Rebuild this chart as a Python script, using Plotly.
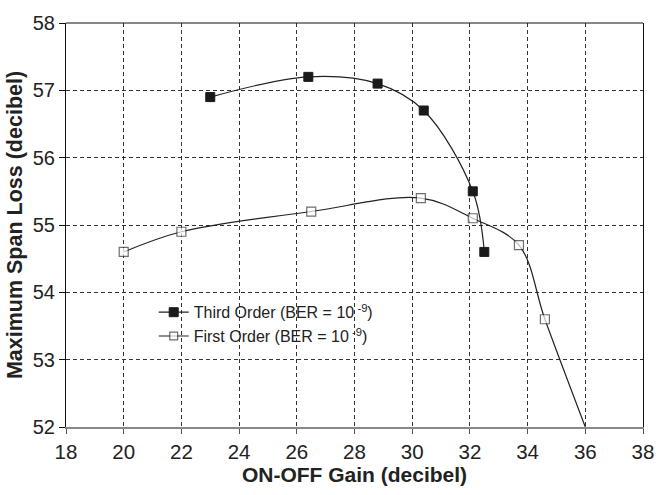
import plotly.graph_objects as go

third_x = [23.0, 26.4, 28.8, 30.4, 32.1, 32.5]
third_y = [56.9, 57.2, 57.1, 56.7, 55.5, 54.6]
first_x = [20.0, 22.0, 26.5, 30.3, 32.1, 33.7, 34.6, 36.0]
first_y = [54.6, 54.9, 55.2, 55.4, 55.1, 54.7, 53.6, 52.0]
first_marker_sizes = [9, 9, 9, 9, 9, 9, 9, 0]

x_ticks = list(range(18, 39, 2))
y_ticks = list(range(52, 59, 1))

FONT = "Liberation Sans, Arial, sans-serif"

fig = go.Figure()
fig.add_trace(go.Scatter(
    x=third_x, y=third_y, mode="lines+markers",
    name="Third Order (BER = 10\u2009<sup>-9</sup>)",
    line=dict(color="#222222", width=1.2, shape="spline", smoothing=1),
    marker=dict(symbol="square", size=9, color="#1a1a1a",
                line=dict(color="#1a1a1a", width=1)),
    cliponaxis=False,
))
fig.add_trace(go.Scatter(
    x=first_x, y=first_y, mode="lines+markers",
    name="First Order (BER = 10\u2009<sup>-9</sup>)",
    line=dict(color="#222222", width=1.2, shape="spline", smoothing=1),
    marker=dict(symbol="square", size=first_marker_sizes, color="white",
                line=dict(color="#333333", width=1.2)),
))

fig.update_layout(
    width=666, height=495,
    margin=dict(l=66, r=13, t=12, b=65),
    paper_bgcolor="white", plot_bgcolor="white",
    font=dict(family=FONT, color="#222222", size=20),
    showlegend=True,
    legend=dict(x=0.152, y=0.326, xanchor="left", yanchor="top",
                bgcolor="rgba(0,0,0,0)", font=dict(size=16, color="#222222"),
                itemwidth=30, tracegroupgap=0),
    xaxis=dict(
        range=[18, 38], tickvals=x_ticks, ticktext=[str(v) for v in x_ticks],
        tickfont=dict(size=20.5), ticklabeloverflow="allow",
        showgrid=True, gridcolor="#333333", gridwidth=1, griddash="4px,3px",
        showline=True, linecolor="#888888", linewidth=2, mirror=False,
        ticks="outside", ticklen=5, tickcolor="#555555",
        zeroline=False,
        title=dict(text="<b>ON-OFF Gain (decibel)</b>", font=dict(size=21), standoff=6),
    ),
    yaxis=dict(
        range=[52, 58], tickvals=y_ticks, ticktext=[str(v) for v in y_ticks],
        tickfont=dict(size=20), ticklabeloverflow="allow",
        showgrid=True, gridcolor="#333333", gridwidth=1, griddash="4px,3px",
        showline=True, linecolor="#111111", linewidth=1, mirror=True,
        ticks="outside", ticklen=6, tickcolor="#111111",
        zeroline=False,
        title=dict(text="<b>Maximum Span Loss (decibel)</b>", font=dict(size=21.5), standoff=4),
    ),
)
# top border
fig.add_shape(type="line", xref="paper", yref="paper", x0=0, x1=1, y0=1, y1=1,
              line=dict(color="#111111", width=1))

fig.write_html("out.html")
